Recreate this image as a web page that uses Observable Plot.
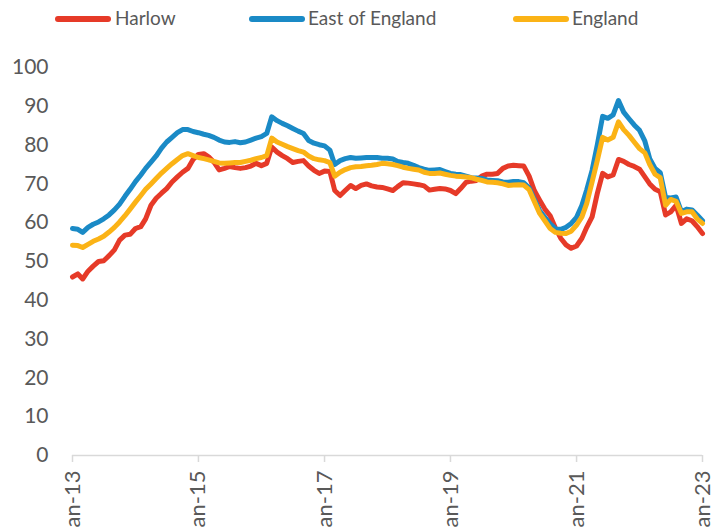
<!DOCTYPE html>
<html>
<head>
<meta charset="utf-8">
<script src="https://cdn.jsdelivr.net/npm/d3@7"></script>
<script src="https://cdn.jsdelivr.net/npm/@observablehq/plot@0.6"></script>
<style>
  html, body { margin: 0; padding: 0; background: #fff; overflow: hidden; }
  #wrap { width: 724px; position: relative; font-family: Lato, "Open Sans", sans-serif; }
  #legend { position: relative; height: 40px; width: 724px; }
  .sw { position: absolute; top: 16px; width: 56px; height: 6px; border-radius: 3px; }
  .lt { position: absolute; top: 7px; font-size: 19px; color: #595959; line-height: 22px; white-space: nowrap; }
</style>
</head>
<body>
<div id="wrap">
  <div id="legend"></div>
  <div id="chart"></div>
</div>
<script>
// ---- data ----
const seriesNames = ["Harlow", "East of England", "England"];
const seriesColors = ["#e63a28", "#1a8ac6", "#fbb316"];

const harlow = [
  46, 46.8, 45.5, 47.5, 48.8, 50, 50.2, 51.5, 53, 55.5,
  56.8, 57, 58.5, 59, 61, 64.5, 66.3, 67.6, 68.8, 70.5,
  71.8, 73, 74, 76.3, 77.6, 77.8, 77, 75.6, 73.6, 74,
  74.5, 74.2, 74, 74.2, 74.6, 75.3, 74.7, 75.3, 79.5, 78.2,
  77.3, 76.5, 75.5, 75.8, 76, 74.6, 73.5, 72.7, 73.3, 73.2,
  68.3, 67, 68.3, 69.6, 68.8, 69.6, 70, 69.5, 69.2, 69.1,
  68.7, 68.3, 69.3, 70.3, 70.2, 70, 69.8, 69.5, 68.4, 68.6,
  68.8, 68.7, 68.3, 67.5, 68.8, 70.4, 70.7, 70.9, 72, 72.5,
  72.5, 72.7, 74, 74.6, 74.8, 74.7, 74.6, 72, 68.3, 65.8,
  63.5, 61.8, 58.6, 56, 54.3, 53.4, 54, 56, 58.8, 61.5,
  67.5, 72.7, 71.8, 72.3, 76.3, 75.8, 75, 74.5, 73.8, 71.8,
  70, 68.6, 68, 62, 62.8, 64.5, 59.8, 61, 60.5, 59,
  57.2
];

const eastOfEngland = [
  58.5, 58.3, 57.5, 58.8, 59.6, 60.2, 61, 62, 63.3, 64.8,
  66.8, 68.6, 70.6, 72.3, 74, 75.6, 77.2, 79.2, 80.8, 82,
  83.2, 84, 84, 83.5, 83.2, 82.8, 82.5, 82, 81.3, 80.8,
  80.7, 80.9, 80.6, 80.8, 81.3, 81.8, 82.2, 83, 87.3, 86.3,
  85.6, 85, 84.3, 83.6, 83, 81.2, 80.5, 80.1, 79.8, 78.7,
  75, 76, 76.5, 76.8, 76.6, 76.7, 76.8, 76.8, 76.8, 76.6,
  76.6, 76.4, 75.8, 75.5, 75.3, 74.8, 74.2, 73.8, 73.5, 73.6,
  73.7, 73.2, 72.7, 72.5, 72.4, 72, 71.6, 71.5, 71.4, 71,
  70.9, 70.8, 70.5, 70.4, 70.6, 70.6, 70.3, 69, 66, 63.1,
  61.4, 59.7, 58.4, 58.3, 58.8, 59.8, 61.4, 64.5, 68.5, 73.5,
  80, 87.4, 86.9, 87.8, 91.5, 88.5, 86.8, 85.2, 83.8, 81,
  76.5, 74, 72.9, 66.5, 66.4, 66.6, 62.8, 63.5, 63.3, 62,
  60.5
];

const england = [
  54.2, 54.1, 53.6, 54.4, 55.2, 55.8, 56.5, 57.6, 58.8, 60.2,
  61.8, 63.5, 65.3, 67, 68.6, 70, 71.4, 72.8, 74, 75.2,
  76.3, 77.3, 77.8, 77.3, 76.8, 76.5, 76.2, 75.8, 75.4, 75.3,
  75.4, 75.5, 75.5, 75.8, 76.1, 76.5, 76.8, 77.3, 81.8, 80.8,
  80.2, 79.6, 79.1, 78.6, 78.2, 77.2, 76.5, 76.2, 76, 75.5,
  72, 73, 73.7, 74.2, 74.4, 74.5, 74.7, 74.8, 75, 75.3,
  75.2, 75, 74.7, 74.3, 74, 73.8, 73.6, 73, 72.7, 72.7,
  72.8, 72.5, 72.2, 72, 71.9, 71.8, 71.6, 71.2, 70.9, 70.5,
  70.4, 70.3, 70, 69.6, 69.7, 69.8, 69.7, 68.5, 65.5, 62.4,
  60.5, 58.5, 57.5, 57.3, 57.2, 57.8, 59.4, 61.5, 65, 70.5,
  76, 82, 81.3, 82, 86, 84, 82.5, 80.8, 79.1, 78,
  75, 72.5, 71.6, 64.5, 66, 65.5, 62.4, 62.8, 62.8, 61,
  59.8
];

const startMonth = new Date(Date.UTC(2013, 0, 1));
const months = harlow.map((_, i) => d3.utcMonth.offset(startMonth, i));

const xTickDates = [2013, 2015, 2017, 2019, 2021, 2023].map(y => new Date(Date.UTC(y, 0, 1)));
const xTickLabels = ["Jan-13", "Jan-15", "Jan-17", "Jan-19", "Jan-21", "Jan-23"];
const yTicks = [0, 10, 20, 30, 40, 50, 60, 70, 80, 90, 100];

// ---- build table ----
const seriesValues = [harlow, eastOfEngland, england];
const rows = [];
seriesNames.forEach((name, s) => {
  seriesValues[s].forEach((v, i) => rows.push({ series: name, date: months[i], value: v }));
});

// ---- legend ----
const legend = document.getElementById("legend");
const legendPos = [[55, 115], [249, 308], [513, 572]];
seriesNames.forEach((name, i) => {
  const sw = document.createElement("div");
  sw.className = "sw";
  sw.style.left = legendPos[i][0] + "px";
  sw.style.background = seriesColors[i];
  legend.appendChild(sw);
  const t = document.createElement("div");
  t.className = "lt";
  t.style.left = legendPos[i][1] + "px";
  t.textContent = name;
  legend.appendChild(t);
});

// ---- chart ----
const chart = Plot.plot({
  width: 724,
  height: 500,
  marginTop: 27,
  marginBottom: 85,
  marginLeft: 72,
  marginRight: 22,
  style: { fontFamily: "Lato, 'Open Sans', sans-serif", fontSize: "20px", color: "#595959", background: "#fff" },
  x: { type: "utc", domain: [xTickDates[0], xTickDates[xTickDates.length - 1]] },
  y: { domain: [0, 100] },
  color: { domain: seriesNames, range: seriesColors },
  marks: [
    Plot.axisY({ ticks: yTicks, tickSize: 0, tickPadding: 24, label: null, fill: "#595959", fontSize: 21 }),
    Plot.ruleY([0], { stroke: "#d9d9d9", strokeWidth: 1.5 }),
    Plot.axisX({
      ticks: xTickDates,
      tickFormat: d => xTickLabels[xTickDates.findIndex(t => +t === +d)],
      tickRotate: -90,
      tickSize: 7,
      tickPadding: 8,
      stroke: "#d9d9d9",
      strokeWidth: 1.5,
      fill: "#595959",
      fontSize: 22,
      label: null
    }),
    Plot.lineY(rows, {
      x: "date",
      y: "value",
      z: "series",
      stroke: "series",
      strokeWidth: 5,
      strokeLinejoin: "round",
      strokeLinecap: "round"
    })
  ]
});
document.getElementById("chart").appendChild(chart);
</script>
</body>
</html>
